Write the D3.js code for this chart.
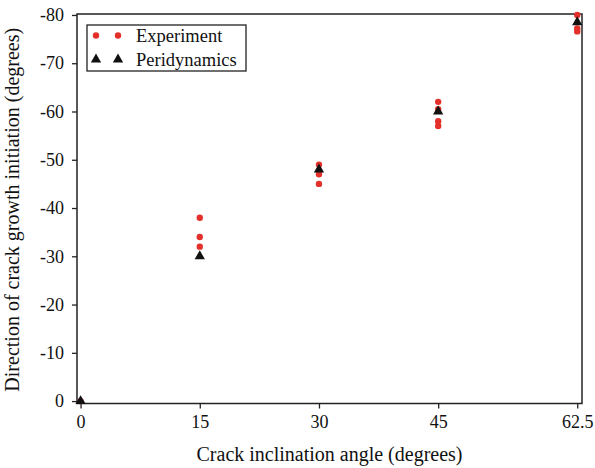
<!DOCTYPE html>
<html>
<head>
<meta charset="utf-8">
<script src="https://cdn.jsdelivr.net/npm/d3@7"></script>
<style>
  body { margin: 0; background: #fff; }
  text { font-family: "Liberation Serif", "Times New Roman", serif; fill: #111; }
</style>
</head>
<body>
<div id="chart"></div>
<script>
// data
var angles = [0, 15, 30, 45, 62.5];
var experiment = [
  [0, 0],
  [15, -38], [15, -34], [15, -32],
  [30, -49], [30, -47.5], [30, -47], [30, -45],
  [45, -62], [45, -60.5], [45, -58], [45, -57],
  [62.5, -80], [62.5, -77.2], [62.5, -76.6]
];
var peridynamics = [0, -30, -48, -60, -78.5];
var yTicks = [0, -10, -20, -30, -40, -50, -60, -70, -80];

var W = 595, H = 468;
var margin = {top: 14, right: 13, bottom: 64.5, left: 77}
  , width = W - margin.left - margin.right
  , height = H - margin.top - margin.bottom;

var xScale = d3.scaleLinear().domain([-0.45, 63.1]).range([0, width]);
var yScale = d3.scaleLinear().domain([0.5, -80.2]).range([height, 0]);

var svg = d3.select("#chart").append("svg")
    .attr("width", W)
    .attr("height", H)
  .append("g")
    .attr("transform", "translate(" + margin.left + "," + margin.top + ")");

// x axis
var xAxis = svg.append("g")
    .attr("transform", "translate(0," + height + ")")
    .call(d3.axisBottom(xScale).tickValues(angles).tickSize(5).tickPadding(7)
      .tickFormat(function(d) { return d; }));
// y axis
var yAxis = svg.append("g")
    .call(d3.axisLeft(yScale).tickValues(yTicks).tickSize(5).tickPadding(8)
      .tickFormat(function(d) { return d === 0 ? "0" : "-" + Math.abs(d); }));

[xAxis, yAxis].forEach(function(a) {
  a.select(".domain").remove();
  a.selectAll("line").attr("stroke", "#222").attr("stroke-width", 1.3);
  a.selectAll("text").style("font-size", "18px").attr("fill", "#111")
    .style("font-family", "'Liberation Serif', serif");
});

// frame
svg.append("rect")
    .attr("width", width)
    .attr("height", height)
    .attr("fill", "none")
    .attr("stroke", "#222")
    .attr("stroke-width", 1.5);

var tri = d3.symbol().type(d3.symbolTriangle).size(46);

// experiment points
svg.selectAll(".exp")
    .data(experiment)
  .enter().append("circle")
    .attr("class", "exp")
    .attr("cx", function(d) { return xScale(d[0]); })
    .attr("cy", function(d) { return yScale(d[1]); })
    .attr("r", 3.2)
    .attr("fill", "#e3302a");

// peridynamics points
svg.selectAll(".pd")
    .data(peridynamics)
  .enter().append("path")
    .attr("class", "pd")
    .attr("d", tri)
    .attr("transform", function(d, i) {
      return "translate(" + xScale(angles[i]) + "," + yScale(d) + ")";
    })
    .attr("fill", "#111");

// legend
var lg = svg.append("g").attr("transform", "translate(10,11)");
lg.append("rect")
    .attr("width", 159)
    .attr("height", 46)
    .attr("fill", "#fff")
    .attr("stroke", "#222")
    .attr("stroke-width", 1.3);
[9, 31].forEach(function(x) {
  lg.append("circle").attr("cx", x).attr("cy", 10.5).attr("r", 3.2).attr("fill", "#e3302a");
  lg.append("path").attr("d", tri).attr("transform", "translate(" + x + ",34.5)").attr("fill", "#111");
});
lg.append("text").attr("x", 49).attr("y", 16.5).style("font-size", "18.5px").text("Experiment");
lg.append("text").attr("x", 49).attr("y", 40.5).style("font-size", "18.5px").text("Peridynamics");

// axis titles
svg.append("text")
    .attr("x", width / 2)
    .attr("y", height + 57)
    .attr("text-anchor", "middle")
    .style("font-size", "20px")
    .text("Crack inclination angle (degrees)");

svg.append("text")
    .attr("transform", "translate(" + (-58) + "," + (height / 2 + 1) + ") rotate(-90)")
    .attr("text-anchor", "middle")
    .style("font-size", "20px")
    .text("Direction of crack growth initiation (degrees)");
</script>
</body>
</html>
